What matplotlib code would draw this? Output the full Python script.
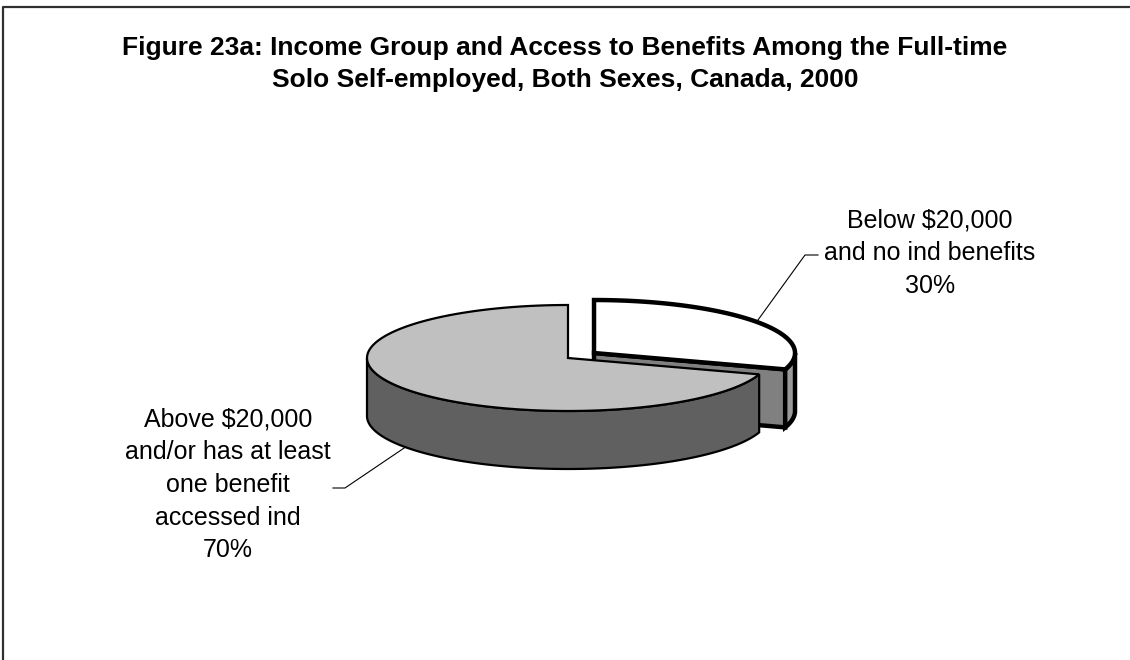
import numpy as np
import matplotlib
matplotlib.use("Agg")
import matplotlib.pyplot as plt
from matplotlib.patches import Polygon
from matplotlib.lines import Line2D

# slice data, in drawing order starting at 12 o'clock, clockwise
labels = ["Below $20,000\nand no ind benefits",
          "Above $20,000\nand/or has at least\none benefit\naccessed ind"]
shares = [30, 70]
top_colors = ["#ffffff", "#c0c0c0"]
side_colors = ["#808080", "#606060"]
outer_colors = ["#9a9a9a", "#606060"]
edge_widths = [3.2, 1.6]
explode = [0.16, 0.0]

title = ("Figure 23a: Income Group and Access to Benefits Among the Full-time\n"
         "Solo Self-employed, Both Sexes, Canada, 2000")

# pie geometry in pixels
CX, CY = 568, 358
RX, RY = 201, 53
DEPTH = 58


def arc(cx, cy, t1, t2, dy=0.0, n=120):
    t = np.radians(np.linspace(t1, t2, n))
    return np.column_stack([cx + RX * np.cos(t), cy - RY * np.sin(t) + dy])


def draw_slice(ax, t1, t2, i):
    mid = np.radians((t1 + t2) / 2)
    cx = CX + explode[i] * RX * np.cos(mid)
    cy = CY - explode[i] * RY * np.sin(mid)
    kw = dict(edgecolor="black", linewidth=edge_widths[i], joinstyle="miter")

    # cut faces, drawn only when they face the front
    for t, normal in ((t1, t1 - 90), (t2, t2 + 90)):
        if np.sin(np.radians(normal)) < -1e-6:
            p = arc(cx, cy, t, t, n=1)[0]
            quad = [(cx, cy), p, (p[0], p[1] + DEPTH), (cx, cy + DEPTH)]
            ax.add_patch(Polygon(quad, closed=True, facecolor=side_colors[i], **kw))

    # outer wall: the part of the rim on the front half
    for base in (-360, 0, 360):
        a, b = max(t1, 180 + base), min(t2, 360 + base)
        if b > a:
            top = arc(cx, cy, a, b)
            bot = arc(cx, cy, a, b, dy=DEPTH)[::-1]
            ax.add_patch(Polygon(np.vstack([top, bot]), closed=True,
                                 facecolor=outer_colors[i], **kw))

    face = np.vstack([[(cx, cy)], arc(cx, cy, t1, t2)])
    ax.add_patch(Polygon(face, closed=True, facecolor=top_colors[i], **kw))
    return cx, cy, mid


def main():
    fig = plt.figure(figsize=(11.3, 6.6), dpi=100)
    ax = fig.add_axes([0, 0, 1, 1])
    ax.set_xlim(0, 1130)
    ax.set_ylim(660, 0)
    ax.axis("off")

    # chart frame (left and top edges)
    fig.add_artist(Line2D([0.003, 0.003, 1.0], [0.0, 0.99, 0.99],
                          transform=fig.transFigure, color="#303030", lw=1.6))

    ax.text(565, 64, title, ha="center", va="center", fontsize=19,
            fontweight="bold", family="Liberation Sans", linespacing=1.38)

    fracs = np.array(shares) / sum(shares)
    ends = 90 - 360 * np.cumsum(fracs)
    starts = np.concatenate([[90], ends[:-1]])
    spans = list(zip(ends, starts))

    # back slices first
    order = sorted(range(len(shares)),
                   key=lambda k: -np.sin(np.radians(sum(spans[k]) / 2)))
    anchors = {}
    for i in order:
        anchors[i] = draw_slice(ax, spans[i][0], spans[i][1], i)

    font = dict(family="Liberation Sans", fontsize=18, linespacing=1.45)

    # label for the small slice, top right
    cx, cy, mid = anchors[0]
    ex, ey = cx + RX * np.cos(mid), cy - RY * np.sin(mid)
    ax.plot([ex, 805, 818], [ey, 255, 255], color="black", lw=0.8)
    ax.text(930, 253, f"{labels[0]}\n{shares[0]}%", ha="center", va="center", **font)

    # label for the large slice, lower left
    cx, cy, mid = anchors[1]
    ex, ey = cx + RX * np.cos(mid), cy - RY * np.sin(mid) + DEPTH
    ax.plot([ex, 345, 333], [ey, 488, 488], color="black", lw=0.8)
    ax.text(228, 485, f"{labels[1]}\n{shares[1]}%", ha="center", va="center", **font)

    fig.savefig("out.png", dpi=100)


if __name__ == "__main__":
    main()
